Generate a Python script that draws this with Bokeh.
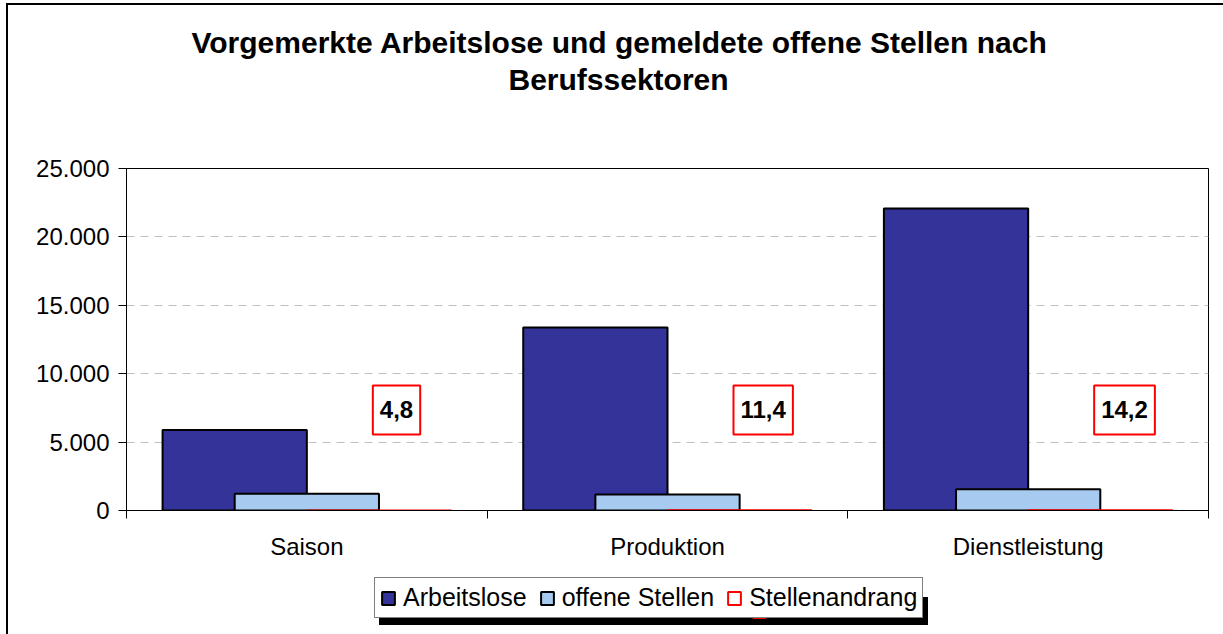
from bokeh.plotting import figure
from bokeh.layouts import column
from bokeh.models import (Range1d, FixedTicker, LinearAxis, Legend, LegendItem,
                          ColumnDataSource, Title, Grid)
from bokeh.transform import dodge
from bokeh.embed import file_html
from bokeh.resources import INLINE
from bokeh.core.properties import value

categories = ["Saison", "Produktion", "Dienstleistung"]
arbeitslose = [5890, 13380, 22080]
offene_stellen = [1230, 1175, 1555]
stellenandrang = [4.8, 11.4, 14.2]
stellenandrang_labels = ["4,8", "11,4", "14,2"]
series_names = ["Arbeitslose", "offene Stellen", "Stellenandrang"]
y_ticks = [0, 5000, 10000, 15000, 20000, 25000]
y_tick_labels = ["0", "5.000", "10.000", "15.000", "20.000", "25.000"]
title_lines = ["Vorgemerkte Arbeitslose und gemeldete offene Stellen nach", "Berufssektoren"]

FONT = "Liberation Sans"
n = len(categories)
xc = [i + 0.5 for i in range(n)]
src = ColumnDataSource(dict(xc=xc, a=arbeitslose, o=offene_stellen, s=stellenandrang,
                            lab=stellenandrang_labels))

sty_a = dict(fill_color="#333399", line_color="black", line_width=2)
sty_o = dict(fill_color="#A6CAF0", line_color="black", line_width=2)
sty_s = dict(fill_color="white", line_color="red", line_width=2)

p = figure(frame_width=1082, frame_height=342,
           x_range=Range1d(0, n), y_range=Range1d(y_ticks[0], y_ticks[-1]),
           output_backend="svg", toolbar_location=None,
           min_border_left=118, min_border_right=15, min_border_top=163, min_border_bottom=60,
           x_axis_type=None, y_axis_type=None)
p.outline_line_color = "black"
p.outline_line_width = 1
p.background_fill_color = "white"
p.border_fill_color = "white"

p.add_layout(Grid(dimension=1, ticker=FixedTicker(ticks=y_ticks[1:-1]),
                  grid_line_color="#C0C0C0", grid_line_dash="8 6", grid_line_width=1))

p.vbar(x=dodge("xc", -0.2), top="a", width=0.4, bottom=0, source=src, **sty_a)
p.vbar(x=dodge("xc", 0.0), top="o", width=0.4, bottom=0, source=src, **sty_o)
p.vbar(x=dodge("xc", 0.2), top="s", width=0.4, bottom=0, source=src, **sty_s)

label_y = 7350
p.text(x=dodge("xc", 0.183), y=label_y, text="lab", source=src,
       text_font=value(FONT), text_font_style="bold", text_font_size="24px",
       text_align="left", text_baseline="middle", text_color="black",
       border_line_color="red", border_line_width=2, background_fill_color="white",
       padding=(7, 16))

yaxis = LinearAxis(ticker=FixedTicker(ticks=y_ticks),
                   major_label_overrides={t: l for t, l in zip(y_ticks, y_tick_labels)},
                   major_tick_out=8, major_tick_in=0, minor_tick_out=0, minor_tick_in=0,
                   major_label_standoff=9, axis_line_color="black", major_tick_line_color="black",
                   major_label_text_font=FONT, major_label_text_font_size="24px",
                   major_label_text_color="black")
p.add_layout(yaxis, "left")

xaxis = LinearAxis(ticker=FixedTicker(ticks=xc, minor_ticks=list(range(n + 1))),
                   major_label_overrides={x: c for x, c in zip(xc, categories)},
                   major_tick_out=0, major_tick_in=0, major_tick_line_color=None,
                   minor_tick_out=8, minor_tick_in=0, minor_tick_line_color="black",
                   major_label_standoff=14, axis_line_color="black",
                   major_label_text_font=FONT, major_label_text_font_size="24px",
                   major_label_text_color="black")
p.add_layout(xaxis, "below")

spacer = Title(text=" ", text_font_size="10px", standoff=58)
t2 = Title(text=title_lines[1], align="left", offset=382, standoff=4,
           text_font=FONT, text_font_style="bold", text_font_size="30px", text_color="black")
t1 = Title(text=title_lines[0], align="left", offset=65, standoff=0,
           text_font=FONT, text_font_style="bold", text_font_size="30px", text_color="black")
p.add_layout(spacer, "above")
p.add_layout(t2, "above")
p.add_layout(t1, "above")

# legend strip below the chart
LW, LH = 1082, 64
lf = figure(frame_width=LW, frame_height=LH, x_range=Range1d(0, LW), y_range=Range1d(0, LH),
            output_backend="svg", toolbar_location=None, min_border=0,
            x_axis_type=None, y_axis_type=None)
lf.outline_line_color = None
lf.background_fill_color = "white"
lf.border_fill_color = "white"
lf.grid.visible = False
lr1 = lf.vbar(x="xc", top="a", width=0.4, source=src, visible=False, **sty_a)
lr2 = lf.vbar(x="xc", top="o", width=0.4, source=src, visible=False, **sty_o)
lr3 = lf.vbar(x="xc", top="s", width=0.4, source=src, visible=False, **sty_s)

leg_left, leg_bottom = 366, 16
legend_style = dict(orientation="horizontal", border_line_width=1, background_fill_alpha=1,
                    inactive_fill_alpha=0, label_text_font=FONT, label_text_font_size="25px",
                    glyph_width=16, glyph_height=16, padding=5, spacing=12, label_standoff=7, margin=0)

# drop shadow: a black box of the same size, offset right/down (blank labels)
shadow = Legend(items=[LegendItem(label=" ", renderers=[r]) for r in (lr1, lr2, lr3)],
                location=(leg_left + 5, leg_bottom - 7), label_width=148,
                border_line_color="black", background_fill_color="black",
                label_text_color="black", **legend_style)
lf.add_layout(shadow)
legend = Legend(items=[LegendItem(label=series_names[0], renderers=[lr1]),
                       LegendItem(label=series_names[1], renderers=[lr2]),
                       LegendItem(label=series_names[2], renderers=[lr3])],
                location=(leg_left, leg_bottom),
                border_line_color="black", background_fill_color="white",
                label_text_color="black", **legend_style)
lf.add_layout(legend)

layout = column(p, lf, spacing=0)
layout.styles = {"border-left": "2px solid black", "border-top": "2px solid black",
                 "margin-left": "6px", "margin-top": "3px"}

open("out.html", "w").write(file_html(layout, INLINE))
